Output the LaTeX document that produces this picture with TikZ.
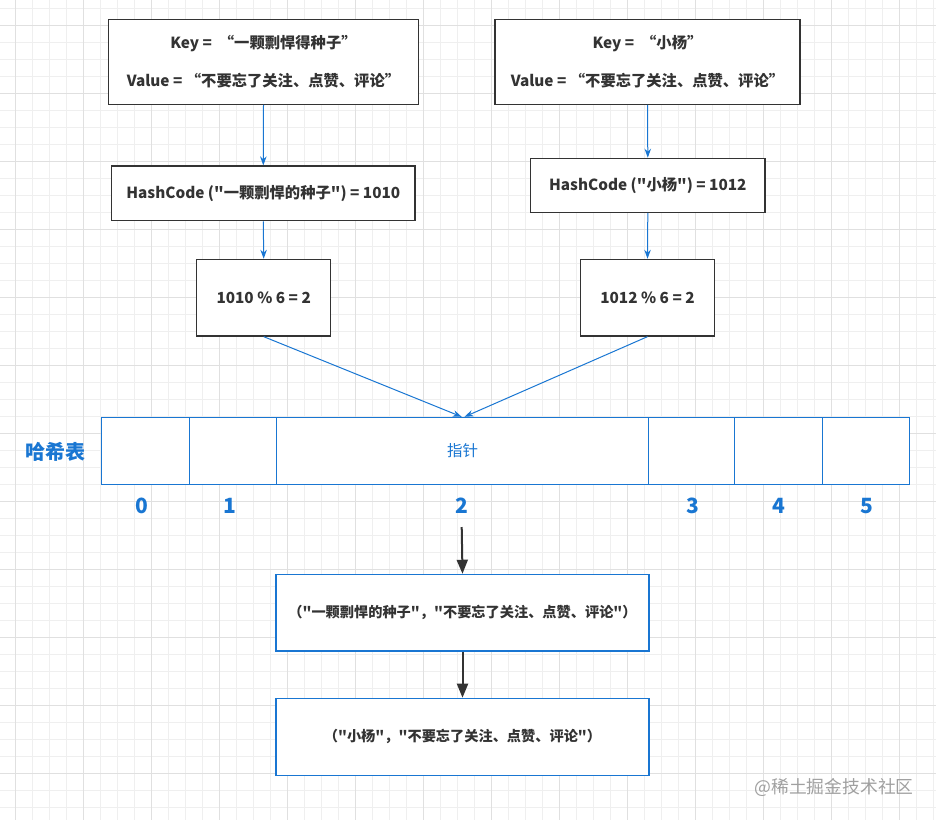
\documentclass[tikz,border=0pt]{standalone}
\usepackage{fontspec}
\newfontfamily\nf{Noto Sans CJK SC}
\usetikzlibrary{arrows.meta}
\definecolor{gridminor}{HTML}{EFEFEF}
\definecolor{gridmajor}{HTML}{E0E0E0}
\definecolor{ink}{HTML}{333333}
\definecolor{bl}{HTML}{1976D2}
\definecolor{wm}{HTML}{A0A0A0}
\tikzset{
  graybox/.style={draw=ink, line width=1.2pt, fill=white, rectangle, inner sep=0pt, text=ink,
    font=\nf\fontsize{15.3}{38}\selectfont\bfseries, align=center},
  bluebox/.style={draw=bl, line width=1.2pt, fill=white, rectangle, inner sep=0pt, text=ink,
    font=\nf\fontsize{14.2}{16}\selectfont\bfseries, align=center},
  cell/.style={draw=bl, line width=1.1pt, fill=white, rectangle, inner sep=0pt, minimum height=67pt,
    text=bl, font=\nf\fontsize{15.5}{18}\selectfont},
  idx/.style={text=bl, font=\nf\fontsize{21}{24}\selectfont\bfseries, inner sep=0pt},
  bluearrow/.style={draw=bl, line width=1pt, -{Stealth[length=9pt,width=6.5pt]}},
  blackarrow/.style={draw=ink, line width=2pt, -{Triangle[length=14pt,width=11pt]}},
}
\begin{document}
\begin{tikzpicture}[x=1pt,y=-1pt]
\useasboundingbox (0,0) rectangle (936,820);
% grid
\foreach \i in {0,...,54} \draw[gridminor, line width=1pt] (15.7+17*\i,0) -- (15.7+17*\i,820);
\foreach \j in {0,...,47} \draw[gridminor, line width=1pt] (0,8.3+17*\j) -- (936,8.3+17*\j);
\foreach \i in {0,...,13} \draw[gridmajor, line width=1pt] (15.7+68*\i,0) -- (15.7+68*\i,820);
\foreach \j in {0,...,11} \draw[gridmajor, line width=1pt] (0,25.3+68*\j) -- (936,25.3+68*\j);

% top boxes
\node[graybox, minimum width=310.5pt, minimum height=85pt] (kv1) at (263.5,61.7)
  {Key = ~“一颗剽悍得种子”\\Value = “不要忘了关注、点赞、评论”};
\node[graybox, minimum width=305pt, minimum height=85pt] (kv2) at (647.5,61.7)
  {Key = ~“小杨”\\Value = “不要忘了关注、点赞、评论”};

% hash boxes
\node[graybox, minimum width=303.3pt, minimum height=54.7pt] (h1) at (263.3,193.3)
  {HashCode ("一颗剽悍的种子") = 1010};
\node[graybox, minimum width=234.3pt, minimum height=54pt] (h2) at (647.8,185.3)
  {HashCode ("小杨") = 1012};

% mod boxes
\node[graybox, minimum width=134pt, minimum height=76.7pt] (m1) at (263.7,297.7) {1010 \% 6 = 2};
\node[graybox, minimum width=134.4pt, minimum height=76.7pt] (m2) at (647.5,297.7) {1012 \% 6 = 2};

% table
\node[cell, minimum width=88pt] (c0) at (145.3,450.8) {};
\node[cell, minimum width=87.4pt] (c1) at (233,450.8) {};
\node[cell, minimum width=372pt] (c2) at (462.7,450.8) {指针};
\node[cell, minimum width=86pt] (c3) at (691.7,450.8) {};
\node[cell, minimum width=88pt] (c4) at (778.7,450.8) {};
\node[cell, minimum width=87pt] (c5) at (866.2,450.8) {};
\node[text=bl, font=\nf\fontsize{20}{24}\selectfont\bfseries, inner sep=0pt] (title) at (55,451.5) {哈希表};

\node[idx] (i0) at (141.7,506) {0};
\node[idx] (i1) at (230,506) {1};
\node[idx] (i2) at (461.7,506) {2};
\node[idx] (i3) at (693.3,506) {3};
\node[idx] (i4) at (779.3,506) {4};
\node[idx] (i5) at (866.7,506) {5};

% entry boxes
\node[bluebox, minimum width=373pt, minimum height=76.7pt] (e1) at (462.5,612.7)
  {（"一颗剽悍的种子"，"不要忘了关注、点赞、评论"）};
\node[bluebox, minimum width=373pt, minimum height=77pt] (e2) at (462.5,736.8)
  {（"小杨"，"不要忘了关注、点赞、评论"）};

% watermark
\node[text=wm, font=\nf\fontsize{17.8}{20}\selectfont, inner sep=0pt] (wmk) at (834,787) {@稀土掘金技术社区};

% connectors
\coordinate (t1) at (461.7,416.8);
\coordinate (t2) at (464.5,416.8);
\coordinate (s0) at (461.7,527);
\draw[bluearrow] (kv1.south) -- (h1.north);
\draw[bluearrow] (kv2.south) -- (h2.north);
\draw[bluearrow] (h1.south) -- (m1.north);
\draw[bluearrow] (h2.south) -- (m2.north);
\draw[bluearrow] (m1.south) -- (t1);
\draw[bluearrow] (m2.south) -- (t2);
\draw[blackarrow] (s0) -- (e1.north);
\draw[blackarrow] (e1.south) -- (e2.north);
\end{tikzpicture}
\end{document}
